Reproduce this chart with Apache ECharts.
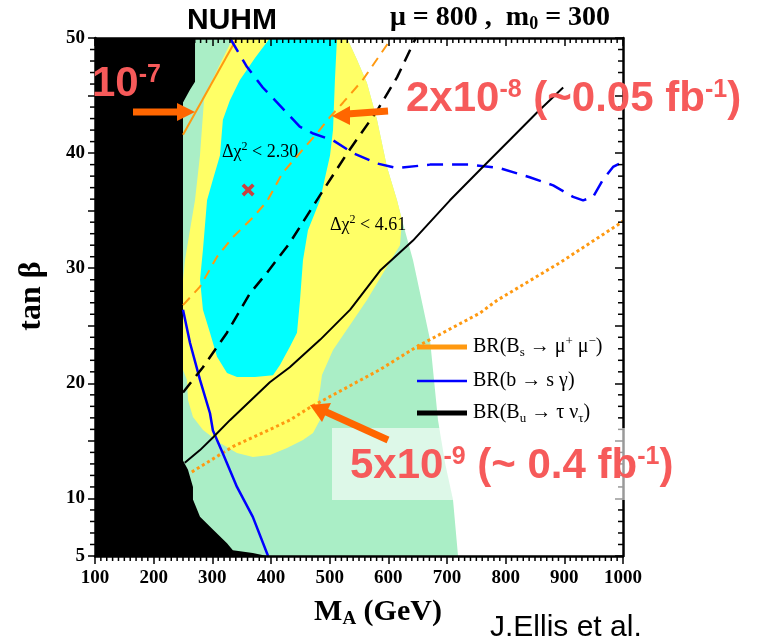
<!DOCTYPE html>
<html>
<head>
<meta charset="utf-8">
<script src="https://cdn.jsdelivr.net/npm/echarts@6/dist/echarts.min.js"></script>
<style>
  html, body { margin: 0; padding: 0; background: #fff; }
  #chart { width: 771px; height: 638px; }
</style>
</head>
<body>
<div id="chart"></div>
<script>
// axis ranges and tick labels
const xTickLabels = [100, 200, 300, 400, 500, 600, 700, 800, 900, 1000];
const yTickLabels = [5, 10, 20, 30, 40, 50];

// allowed regions [M_A, tan beta]
const greenRegion = [[100, 5], [100, 50], [529.5, 50], [546.6, 48.1], [563.6, 46.1], [580.7, 42.9], [597.7, 38.8],
  [614.8, 35.9], [623.3, 34.2], [642.1, 30.7], [671, 23.8], [684.7, 16.8], [697, 13], [710.2, 9.9], [718.8, 5]];
const yellowRegion = [[335.2, 50], [529.5, 50], [546.6, 48.1], [563.6, 46.1], [580.7, 42.9], [597.7, 38.8],
  [614.8, 35.9], [623.3, 34.2], [619.9, 32.0], [594.3, 29.85], [563.6, 27.24], [534.7, 25.07], [505.7, 22.9],
  [486.9, 20.72], [483.5, 19.42], [480.1, 18.55], [483.5, 16.81], [471.6, 15.69], [454.5, 15.08], [427.3, 14.38],
  [398.3, 13.77], [369.3, 13.6], [342, 13.95], [313.1, 14.82], [284.1, 15.95], [267, 17.08], [258.5, 18.55],
  [256.8, 20.29], [250, 21.16], [250, 28.98], [253.4, 30.71], [261.9, 33.32], [270.5, 35.93], [279, 39.84],
  [285.8, 44.61], [296, 45.92], [316.5, 48.09]];
const cyanRegion = [[398.3, 50], [512.5, 50], [509, 46.4], [505.7, 42.0], [500.6, 39.8], [483.5, 35.9], [463, 33.3],
  [454.5, 30.7], [449.4, 27.2], [444.3, 24.4], [432.4, 23.2], [415.3, 21.6], [403.4, 20.7], [372.7, 20.55],
  [342, 20.55], [325, 20.9], [308, 22.3], [296, 24.4], [284, 26.4], [279, 29.0], [284, 31.6], [291, 35.9],
  [301, 37.7], [313, 39.8], [318, 42.9], [330, 44.6], [347, 46.35], [372.7, 48.26]];
const excludedRegion = [[100, 5], [100, 50], [270.5, 50], [270.5, 46.2], [261.9, 45.5], [250, 44.4], [250, 13.3],
  [258.5, 12.5], [267, 11.0], [267, 9.9], [279, 8.4], [301, 7.3], [325, 6.1], [335, 5.5], [369, 5.26], [393, 5]];

// BR contours
const bsmumu1e7 = [[342, 50], [250, 41.6]];
const bsmumu2e8 = [[250, 26.8], [279, 28.4], [308, 31.0], [335, 32.7], [369, 34.4], [393, 35.8], [420, 38.3],
  [449, 40.0], [478, 41.7], [500, 43.1], [523, 44.4], [557, 46.4], [603, 49.8], [606, 50]];
const bsmumu5e9 = [[265, 12.3], [335, 14.5], [432, 16.8], [466, 17.9], [586, 21.2], [649, 23.2], [756, 26.1],
  [785, 27.2], [893, 30.5], [995, 33.9], [1000, 34.1]];
const bsgSolid = [[250, 26.4], [262, 23.5], [279, 20.3], [296, 17.4], [301, 15.9], [318, 13.9], [342, 11.0],
  [369, 8.4], [395, 5]];
const bsgDashed = [[330, 50], [359, 47.5], [386, 45.7], [427, 43.5], [449, 42.3], [472, 41.7], [506, 41.1],
  [540, 40.0], [581, 39.1], [615, 38.7], [671, 39.0], [739, 39.0], [790, 38.7], [841, 37.9], [881, 37.2],
  [915, 36.2], [932, 35.9], [949, 36.2], [966, 37.7], [983, 38.8], [998, 39.2]];
const butaunuDashed = [[250, 19.2], [284, 21.4], [325, 24.4], [364, 27.8], [393, 29.6], [432, 32.2], [478, 35.9],
  [530, 40.0], [581, 43.7], [615, 46.6], [645, 49.8], [647, 50]];
const butaunuSolid = [[253, 13.1], [279, 14.2], [301, 15.3], [330, 16.8], [398, 20.1], [432, 21.4], [484, 23.8],
  [535, 26.4], [586, 29.8], [642, 32.4], [705, 35.9], [761, 38.8], [812, 41.4], [853, 43.5], [898, 45.7]];
const bestFit = [[361, 36.8]];

// small ticks between the labelled ones (every 10 GeV, every 1 in tan beta)
const minorX = [];
for (let v = 110; v < 1000; v += 10) if (v % 100 !== 0) minorX.push([v, 5]);
const minorY = [];
for (let v = 6; v < 50; v += 1) if (v % 5 !== 0) minorY.push([100, v]);

const GREEN = "#AAEEC6";
const YELLOW = "#FFFF66";
const CYAN = "#00FFFF";
const ORANGE = "#FF9910";
const BLUE = "#0000FF";
const RED = "#F65A5A";
const ARROW = "#FF6600";
const SERIF = "Liberation Serif";
const SANS = "Liberation Sans";

const chart = echarts.init(document.getElementById("chart"));

const region = (name, pts, color) => ({
  type: "custom",
  name: name,
  silent: true,
  z: 1,
  data: pts,
  encode: { x: 0, y: 1 },
  renderItem: (params, api) => {
    if (params.dataIndex !== 0) return null;
    return {
      type: "polygon",
      shape: { points: pts.map((p) => api.coord(p)) },
      style: { fill: color },
    };
  },
});

const contour = (pts, color, width, dash) => ({
  type: "line",
  data: pts,
  showSymbol: false,
  silent: true,
  z: 3,
  lineStyle: { color: color, width: width, type: dash || "solid" },
});

const tickLine = (x1, y1, x2, y2) => ({
  type: "line",
  shape: { x1: x1, y1: y1, x2: x2, y2: y2 },
  style: { stroke: "#000", lineWidth: 1.5 },
});

// bottom ticks point out, top ticks point in
const minorXSeries = {
  type: "custom", silent: true, clip: false, z: 11, data: minorX, encode: { x: 0, y: 1 },
  renderItem: (params, api) => {
    const b = api.coord([api.value(0), 5]);
    const t = api.coord([api.value(0), 50]);
    return { type: "group", children: [tickLine(b[0], b[1], b[0], b[1] + 5), tickLine(t[0], t[1], t[0], t[1] + 5)] };
  },
};
// left ticks point out, right ticks point in
const minorYSeries = {
  type: "custom", silent: true, clip: false, z: 11, data: minorY, encode: { x: 0, y: 1 },
  renderItem: (params, api) => {
    const l = api.coord([100, api.value(1)]);
    const r = api.coord([1000, api.value(1)]);
    return { type: "group", children: [tickLine(l[0] - 5, l[1], l[0], l[1]), tickLine(r[0] - 5, r[1], r[0], r[1])] };
  },
};

const axisFont = { fontFamily: SERIF, fontWeight: "bold", fontSize: 19, color: "#000" };
const tickStyle = { color: "#000", width: 1.5 };

const xFrame = (pos, inside, labels) => ({
  type: "value", min: 100, max: 1000, interval: 100, position: pos, z: 10,
  axisLine: { show: true, lineStyle: { color: "#000", width: 2.5 } },
  axisTick: { inside: inside, length: 8, lineStyle: tickStyle },
  axisLabel: labels
    ? Object.assign({ margin: 13, formatter: (v) => (xTickLabels.includes(v) ? v : "") }, axisFont)
    : { show: false },
  splitLine: { show: false },
});
const yFrame = (pos, inside, labels) => ({
  type: "value", min: 5, max: 50, interval: 5, position: pos, z: 10,
  axisLine: { show: true, lineStyle: { color: "#000", width: 2.5 } },
  axisTick: { inside: inside, length: inside ? 8 : 7, lineStyle: tickStyle },
  axisLabel: labels
    ? Object.assign({ margin: 10, formatter: (v) => (yTickLabels.includes(v) ? v : "") }, axisFont)
    : { show: false },
  splitLine: { show: false },
});

const subText = (x, y, text, rich, align) => ({
  type: "text", z: 102, x: x, y: y,
  style: { text: text, rich: rich, align: align || "left", verticalAlign: "middle" },
});

const legendRich = {
  a: { fontFamily: SERIF, fontSize: 20, lineHeight: 24, fill: "#000" },
  b: { fontFamily: SERIF, fontSize: 13, lineHeight: 13, verticalAlign: "bottom", fill: "#000" },
  p: { fontFamily: SERIF, fontSize: 13, lineHeight: 13, verticalAlign: "top", fill: "#000" },
};
const redRich = {
  m: { fontFamily: SANS, fontWeight: "bold", fontSize: 42, lineHeight: 42, fill: RED },
  s: { fontFamily: SANS, fontWeight: "bold", fontSize: 25, lineHeight: 25, verticalAlign: "top", fill: RED },
};
const chiRich = {
  a: { fontFamily: SERIF, fontSize: 18, lineHeight: 22, fill: "#000" },
  p: { fontFamily: SERIF, fontSize: 12, lineHeight: 12, verticalAlign: "top", fill: "#000" },
};
const titleRich = {
  a: { fontFamily: SERIF, fontWeight: "bold", fontSize: 28, lineHeight: 30, fill: "#000" },
  b: { fontFamily: SERIF, fontWeight: "bold", fontSize: 18, lineHeight: 18, verticalAlign: "bottom", fill: "#000" },
};
const xNameRich = {
  a: { fontFamily: SERIF, fontWeight: "bold", fontSize: 30, lineHeight: 34, fill: "#000" },
  b: { fontFamily: SERIF, fontWeight: "bold", fontSize: 19, lineHeight: 19, verticalAlign: "bottom", fill: "#000" },
};

const option = {
  animation: false,
  grid: { left: 95, top: 38, width: 528, height: 518 },
  xAxis: [xFrame("bottom", false, true), xFrame("top", true, false)],
  yAxis: [yFrame("left", false, true), yFrame("right", true, false)],
  series: [
    region("green", greenRegion, GREEN),
    region("yellow", yellowRegion, YELLOW),
    region("cyan", cyanRegion, CYAN),
    region("excluded", excludedRegion, "#000"),
    contour(bsmumu1e7, ORANGE, 2),
    contour(bsmumu2e8, ORANGE, 2, [10, 7]),
    contour(bsmumu5e9, ORANGE, 3, [3, 3]),
    contour(bsgSolid, BLUE, 2.5),
    contour(bsgDashed, BLUE, 2.5, [16, 9]),
    contour(butaunuDashed, "#000", 2.5, [13, 8]),
    contour(butaunuSolid, "#000", 2),
    {
      type: "scatter",
      data: bestFit,
      z: 4,
      symbol: "path://M0,2 L2,0 L5,3 L8,0 L10,2 L7,5 L10,8 L8,10 L5,7 L2,10 L0,8 L3,5 Z",
      symbolSize: 13,
      itemStyle: { color: "#FF1010" },
    },
    minorXSeries,
    minorYSeries,
  ],
  graphic: [
    // stippled box behind the lower label
    { type: "rect", z: 100, shape: { x: 332, y: 428, width: 295, height: 72 }, style: { fill: "rgba(255,255,255,0.6)" } },
    // arrows
    { type: "line", z: 101, shape: { x1: 133, y1: 112, x2: 180, y2: 112 }, style: { stroke: ARROW, lineWidth: 7 } },
    { type: "polygon", z: 101, shape: { points: [[177, 103], [195, 112], [177, 121]] }, style: { fill: ARROW } },
    { type: "line", z: 101, shape: { x1: 347, y1: 114, x2: 388, y2: 111 }, style: { stroke: ARROW, lineWidth: 7 } },
    { type: "polygon", z: 101, shape: { points: [[350, 106], [332, 116], [350, 125]] }, style: { fill: ARROW } },
    { type: "line", z: 101, shape: { x1: 324, y1: 411, x2: 388, y2: 440 }, style: { stroke: ARROW, lineWidth: 7 } },
    { type: "polygon", z: 101, shape: { points: [[310, 405], [331, 403], [322, 422]] }, style: { fill: ARROW } },
    // red annotations
    subText(92, 84, "{m|10}{s|-7}", redRich),
    subText(406, 99, "{m|2x10}{s|-8}{m| (~0.05 fb}{s|-1}{m|)}", redRich),
    subText(350, 466, "{m|5x10}{s|-9}{m| (~ 0.4 fb}{s|-1}{m|)}", redRich),
    // chi2 labels
    subText(222, 152, "{a|Δχ}{p|2}{a| < 2.30}", chiRich),
    subText(330, 225, "{a|Δχ}{p|2}{a| < 4.61}", chiRich),
    // legend
    { type: "line", z: 101, shape: { x1: 417, y1: 347, x2: 467, y2: 347 }, style: { stroke: ORANGE, lineWidth: 5 } },
    { type: "line", z: 101, shape: { x1: 417, y1: 381, x2: 467, y2: 381 }, style: { stroke: BLUE, lineWidth: 2.5 } },
    { type: "line", z: 101, shape: { x1: 417, y1: 413, x2: 467, y2: 413 }, style: { stroke: "#000", lineWidth: 5 } },
    subText(473, 347, "{a|BR(B}{b|s}{a| → μ}{p|+}{a| μ}{p|−}{a|)}", legendRich),
    subText(473, 381, "{a|BR(b → s γ)}", legendRich),
    subText(473, 413, "{a|BR(B}{b|u}{a| → τ ν}{b|τ}{a|)}", legendRich),
    // titles
    { type: "text", z: 102, x: 232, y: 21, style: { text: "NUHM", fontFamily: SANS, fontWeight: "bold", fontSize: 30, fill: "#000", align: "center", verticalAlign: "middle" } },
    subText(390, 18, "{a|μ = 800 ,  m}{b|0}{a| = 300}", titleRich),
    // axis titles
    { type: "text", z: 102, x: 32, y: 296, rotation: Math.PI / 2, style: { text: "tan β", fontFamily: SERIF, fontWeight: "bold", fontSize: 32, fill: "#000", align: "center", verticalAlign: "middle" } },
    subText(378, 612, "{a|M}{b|A}{a| (GeV)}", xNameRich, "center"),
    { type: "text", z: 102, x: 490, y: 628, style: { text: "J.Ellis et al.", fontFamily: SANS, fontSize: 30, fill: "#000", verticalAlign: "middle" } },
  ],
};

chart.setOption(option);
window.addEventListener("resize", () => chart.resize());
</script>
</body>
</html>
